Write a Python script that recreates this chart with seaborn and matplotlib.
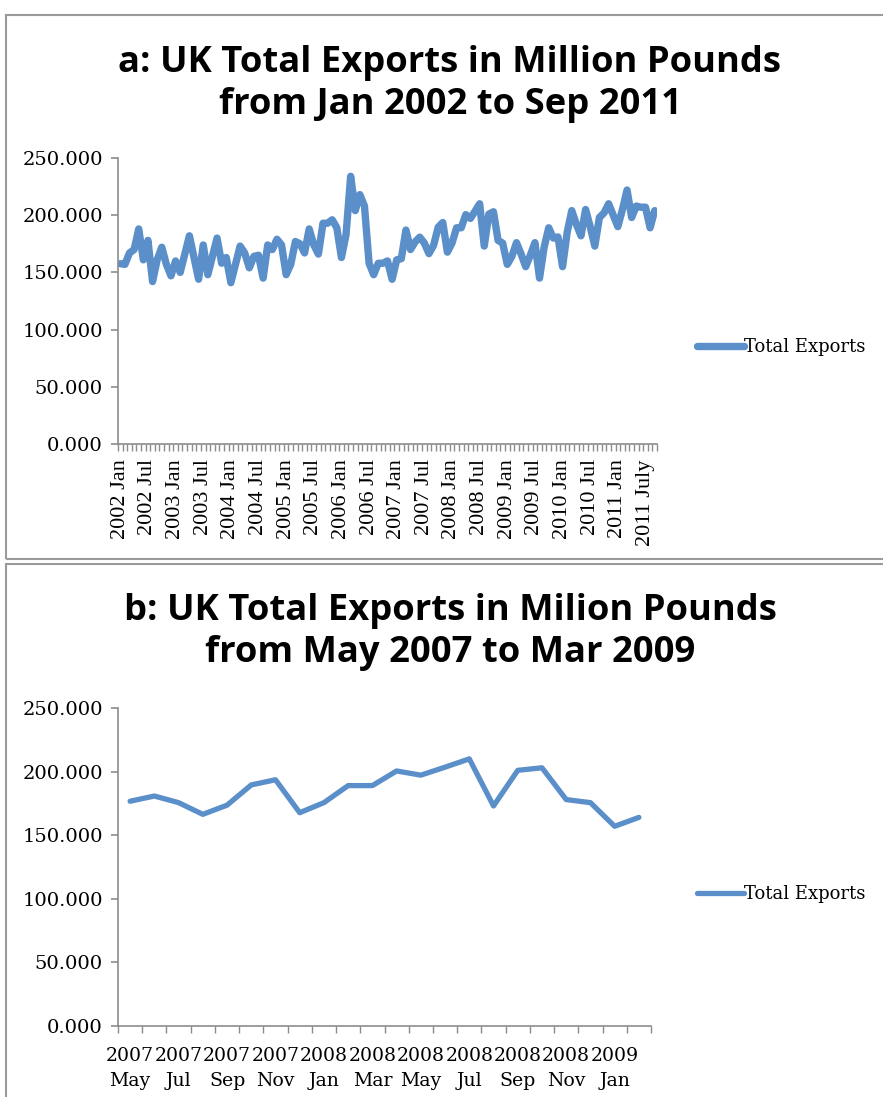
import numpy as np
import pandas as pd
import matplotlib
matplotlib.use("Agg")
import matplotlib.pyplot as plt
import seaborn as sns
from matplotlib.patches import Rectangle
from matplotlib.lines import Line2D

# monthly UK total exports, Jan 2002 .. Sep 2011
exports_all = [
    157.6, 157, 167, 170, 188, 161, 178, 142, 161, 172, 157, 147,
    160, 150, 166, 182, 163, 144, 174, 148, 164, 180, 158, 163,
    141, 157, 173, 167, 154, 164, 165, 145, 174, 170, 179, 174,
    148, 157, 177, 175, 167, 188, 174, 166, 193, 193, 196, 189,
    163, 183, 234, 204, 218, 208, 158, 148, 158, 158, 160, 144,
    161, 162, 187, 170, 176.7, 180.8, 175.6, 166.4, 173.6, 189.5, 193.6, 167.7,
    175.6, 189, 189, 200.5, 197.2, 203.5, 210, 173, 201, 203, 178, 175.6,
    157, 164, 176, 166, 155, 165, 176, 145, 172, 189, 180, 181,
    155, 185, 204, 192, 182, 205, 190, 173, 198, 202, 210, 200,
    190, 205, 222, 198, 208, 207, 207, 189, 204,
]
years_all = ["2002", "2003", "2004", "2005", "2006", "2007", "2008", "2009", "2010", "2011"]
labels_all = []
for yr in years_all:
    labels_all += [yr + " Jan", yr + " Jul"]
labels_all[-1] = "2011 July"

# zoomed window, May 2007 .. Feb 2009
exports_zoom = [
    176.7, 180.8, 175.6, 166.4, 173.6, 189.5, 193.6, 167.7, 175.6, 189, 189,
    200.5, 197.2, 203.5, 210, 173, 201, 203, 178, 175.6, 157, 164,
]
labels_zoom = ["2007\nMay", "2007\nJul", "2007\nSep", "2007\nNov", "2008\nJan", "2008\nMar",
               "2008\nMay", "2008\nJul", "2008\nSep", "2008\nNov", "2009\nJan"]
yticks = [0, 50, 100, 150, 200, 250]

LINE = "#5B8FC9"
AXC = "#8c8c8c"
W, H = 883, 1097

sns.set_style("white")
plt.rcParams["text.color"] = "black"
plt.rcParams["xtick.color"] = "black"
plt.rcParams["ytick.color"] = "black"

df_all = pd.DataFrame({"month": range(len(exports_all)), "value": exports_all})
df_zoom = pd.DataFrame({"month": range(len(exports_zoom)), "value": exports_zoom})

fig = plt.figure(figsize=(W / 100, H / 100), dpi=100)

# panel frames
for (x0, y0, x1, y1) in [(6, 15, 900, 559), (6, 564, 900, 1120)]:
    fig.patches.append(Rectangle((x0 / W, 1 - y1 / H), (x1 - x0) / W, (y1 - y0) / H,
                                 transform=fig.transFigure, fill=False,
                                 edgecolor="#9a9a9a", linewidth=1.5))


def style_axes(ax, n, label_pad):
    for side in ["top", "right"]:
        ax.spines[side].set_visible(False)
    for side in ["left", "bottom"]:
        ax.spines[side].set_color(AXC)
        ax.spines[side].set_linewidth(1.2)
    ax.set_ylim(0, 250)
    ax.set_xlim(-0.5, n - 0.5)
    ax.set_yticks(yticks)
    ax.set_yticklabels(["%.3f" % v for v in yticks], family="DejaVu Serif", fontsize=14,
                       color="black")
    ax.tick_params(axis="y", direction="out", length=5, width=1.2, color=AXC, pad=6, left=True)
    ax.set_xticks(np.arange(-0.5, n, 1), minor=True)
    ax.tick_params(axis="x", which="minor", direction="out", length=5, width=1, color=AXC, bottom=True)
    ax.tick_params(axis="x", which="major", length=0, pad=label_pad)
    ax.set_xlabel("")
    ax.set_ylabel("")
    ax.grid(False)


# ---- panel a
ax1 = fig.add_axes([118 / W, 1 - 444 / H, 539 / W, 286 / H])
sns.lineplot(data=df_all, x="month", y="value", ax=ax1, color=LINE, linewidth=5.3,
             solid_joinstyle="round", solid_capstyle="round", legend=False)
style_axes(ax1, len(exports_all), 11)
ax1.set_xticks(np.arange(0, len(exports_all), 6))
ax1.set_xticklabels(labels_all, rotation=90, family="Liberation Serif", fontsize=16,
                    va="top", color="black")

fig.text(450 / W, 1 - 84 / H, "a: UK Total Exports in Million Pounds\nfrom Jan 2002 to Sep 2011",
         ha="center", va="center", fontsize=26.2, fontweight="bold", family="Open Sans",
         linespacing=1.2, color="black")

# ---- panel b
ax2 = fig.add_axes([118 / W, 1 - 1026 / H, 533 / W, 318 / H])
sns.lineplot(data=df_zoom, x="month", y="value", ax=ax2, color=LINE, linewidth=3.8,
             solid_joinstyle="round", solid_capstyle="round", legend=False)
style_axes(ax2, len(exports_zoom), 15)
ax2.set_xticks(np.arange(0, len(exports_zoom), 2))
ax2.set_xticklabels(labels_zoom, family="DejaVu Serif", fontsize=13.6, linespacing=1.5,
                    color="black")

fig.text(450 / W, 1 - 632 / H, "b: UK Total Exports in Milion Pounds\nfrom May 2007 to Mar 2009",
         ha="center", va="center", fontsize=26.2, fontweight="bold", family="Open Sans",
         linespacing=1.2, color="black")

# legends
for ax, ypx, lw in [(ax1, 347, 5.3), (ax2, 894, 3.8)]:
    h = Line2D([], [], color=LINE, linewidth=lw, solid_capstyle="round")
    ax.legend([h], ["Total Exports"], loc="center left", frameon=False,
              bbox_to_anchor=(688 / W, 1 - ypx / H), bbox_transform=fig.transFigure,
              prop={"family": "DejaVu Serif", "size": 13}, handlelength=2.6,
              handletextpad=0.0, borderpad=0)

fig.savefig("out.png", dpi=100)
